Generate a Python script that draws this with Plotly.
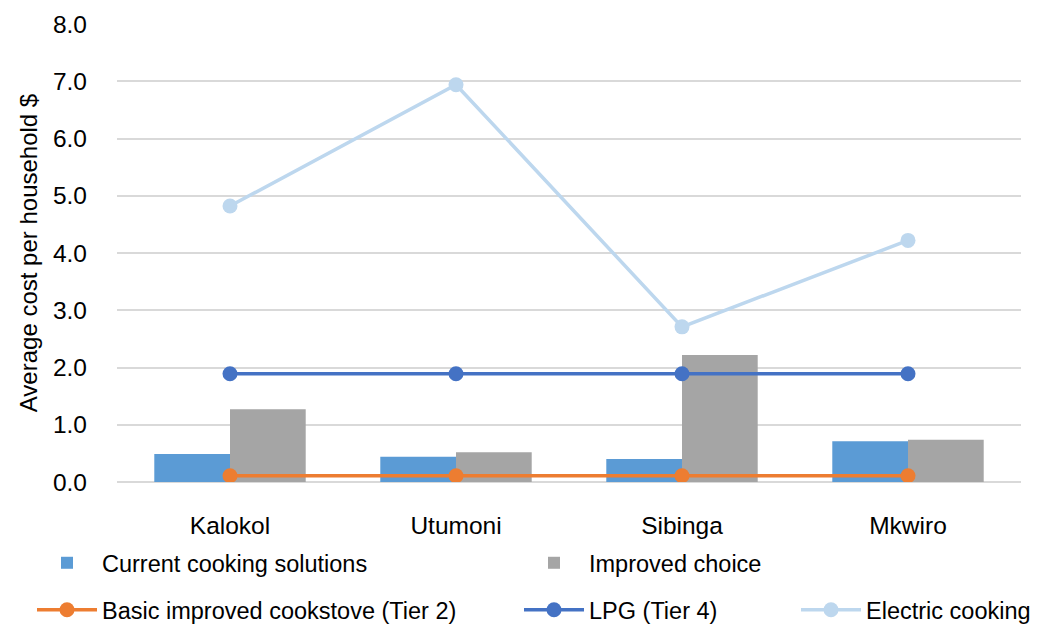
import plotly.graph_objects as go

categories = ["Kalokol", "Utumoni", "Sibinga", "Mkwiro"]
current = [0.49, 0.44, 0.40, 0.71]
improved = [1.27, 0.52, 2.22, 0.74]
basic_tier2 = [0.11, 0.11, 0.11, 0.11]
lpg_tier4 = [1.89, 1.89, 1.89, 1.89]
electric = [4.82, 6.94, 2.71, 4.22]
y_ticks = [0, 1, 2, 3, 4, 5, 6, 7, 8]
y_tick_labels = ["0.0", "1.0", "2.0", "3.0", "4.0", "5.0", "6.0", "7.0", "8.0"]

FONT = "Liberation Sans, Arial, sans-serif"
# page body has an 8px margin, so the figure is offset by (8, 8)
OFF = 8
W, H = 1043 - OFF, 626 - OFF
L, R, T, B = 117 - OFF, 22, 24 - OFF, 144
PLOT_W = W - L - R

fig = go.Figure()
fig.add_trace(go.Bar(x=categories, y=current, name="Current cooking solutions",
                     marker=dict(color="#5B9BD5", line=dict(width=0)), legend="legend"))
fig.add_trace(go.Bar(x=categories, y=improved, name="Improved choice",
                     marker=dict(color="#A5A5A5", line=dict(width=0)), legend="legend2"))
fig.add_trace(go.Scatter(x=categories, y=basic_tier2, name="Basic improved cookstove (Tier 2)",
                         mode="lines+markers", line=dict(color="#ED7D31", width=3.5),
                         marker=dict(size=15, color="#ED7D31"), legend="legend3"))
fig.add_trace(go.Scatter(x=categories, y=lpg_tier4, name="LPG (Tier 4)",
                         mode="lines+markers", line=dict(color="#4472C4", width=3.5),
                         marker=dict(size=15, color="#4472C4"), legend="legend4"))
fig.add_trace(go.Scatter(x=categories, y=electric, name="Electric cooking",
                         mode="lines+markers", line=dict(color="#BDD7EE", width=3.5),
                         marker=dict(size=15, color="#BDD7EE"), legend="legend5"))

def leg(x_px, y_px):
    # x_px, y_px are page pixel positions from the reference
    return dict(orientation="h", xref="paper", yref="container", xanchor="left",
                yanchor="middle", x=(x_px - 117) / PLOT_W, y=(H - (y_px - OFF)) / H,
                font=dict(family=FONT, size=23.5, color="#000000"),
                bgcolor="rgba(0,0,0,0)", itemwidth=60)

fig.update_layout(
    width=W, height=H,
    margin=dict(l=L, r=R, t=T, b=B, autoexpand=False),
    paper_bgcolor="white", plot_bgcolor="white",
    barmode="group", bargap=0.33, bargroupgap=0,
    font=dict(family=FONT, size=24, color="#000000"),
    showlegend=True,
    xaxis=dict(showgrid=False, showline=False, ticks="", tickfont=dict(size=24.5),
               ticklabelstandoff=26),
    yaxis=dict(range=[0, 8], tickvals=y_ticks, ticktext=y_tick_labels,
               showgrid=True, gridcolor="#D9D9D9", gridwidth=1.5, zeroline=True,
               zerolinecolor="#D9D9D9", zerolinewidth=1.5, showline=False,
               tickfont=dict(size=24.5), ticks="", ticklabelstandoff=29,
               title=dict(text="Average cost per household $", font=dict(size=24), standoff=8)),
    legend=leg(32, 563),
    legend2=leg(519, 563),
    legend3=leg(32, 610),
    legend4=leg(519, 610),
    legend5=leg(796, 610),
)

fig.write_html("out.html")
